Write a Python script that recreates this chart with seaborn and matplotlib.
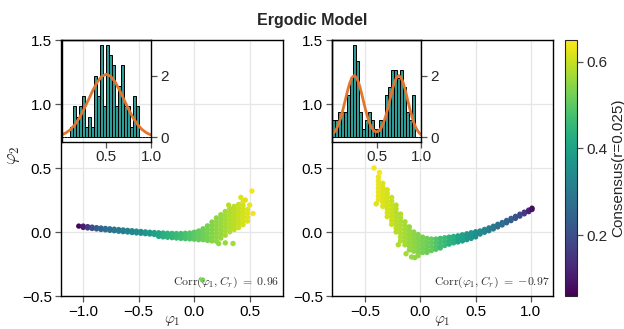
import numpy as np
import pandas as pd
import matplotlib
matplotlib.use("Agg")
import matplotlib.pyplot as plt
import seaborn as sns
from matplotlib.colors import Normalize
from matplotlib.cm import ScalarMappable

# ---------------- data ----------------
# Left panel scatter: columns of points (phi1 value, list of phi2 values, consensus)
left_phi1 = [-1.04, -1.00, -0.96, -0.92, -0.88, -0.84, -0.80, -0.76, -0.72, -0.68,
             -0.64, -0.60, -0.56, -0.52, -0.48, -0.44, -0.40, -0.36, -0.32, -0.28,
             -0.24, -0.20, -0.16, -0.12, -0.08, -0.04, 0.00, 0.04, 0.08, 0.12,
             0.16, 0.20, 0.24, 0.28, 0.32, 0.36, 0.40, 0.44, 0.48]
left_phi2 = [
    [0.046], [0.046, 0.036], [0.042, 0.032], [0.038, 0.028], [0.034, 0.024],
    [0.031, 0.020], [0.028, 0.017], [0.025, 0.013], [0.022, 0.010], [0.019, 0.006],
    [0.016, 0.003], [0.013, 0.000], [0.010, -0.004], [0.007, -0.007], [0.004, -0.010],
    [0.001, -0.013], [-0.002, -0.016], [-0.004, -0.019], [-0.006, -0.022, -0.034],
    [-0.008, -0.024, -0.038], [-0.010, -0.026, -0.041], [-0.011, -0.028, -0.044],
    [-0.012, -0.030, -0.047], [-0.012, -0.031, -0.050], [-0.010, -0.031, -0.052],
    [-0.008, -0.030, -0.054], [-0.002, -0.028, -0.056], [0.008, -0.020, -0.048, -0.060],
    [0.025, -0.004, -0.032, -0.060], [0.048, 0.018, -0.012, -0.042, -0.066],
    [0.078, 0.048, 0.018, -0.012, -0.042, -0.070],
    [0.110, 0.080, 0.050, 0.020, -0.010, -0.040, -0.072],
    [0.135, 0.105, 0.075, 0.045, 0.015, -0.015, -0.048],
    [0.160, 0.130, 0.100, 0.070, 0.040, 0.010, -0.025],
    [0.182, 0.152, 0.122, 0.092, 0.062, 0.032, 0.002],
    [0.200, 0.170, 0.140, 0.110, 0.080, 0.050, 0.020],
    [0.215, 0.185, 0.155, 0.125, 0.095, 0.065, 0.035],
    [0.205, 0.175, 0.145, 0.115, 0.085, 0.058],
    [0.175, 0.145, 0.115, 0.085]]
left_cons = [0.07, 0.11, 0.16, 0.20, 0.23, 0.25, 0.27, 0.28, 0.29, 0.30,
             0.31, 0.32, 0.33, 0.34, 0.35, 0.37, 0.38, 0.40, 0.41, 0.43,
             0.44, 0.45, 0.46, 0.47, 0.48, 0.49, 0.50, 0.51, 0.52, 0.53,
             0.54, 0.55, 0.56, 0.57, 0.58, 0.59, 0.60, 0.61, 0.62]
left_out_phi1 = [0.52, 0.42, 0.46, 0.53, 0.31, 0.22, 0.28, 0.35, 0.44, 0.50, 0.075]
left_out_phi2 = [0.32, 0.27, 0.25, 0.145, 0.21, -0.09, -0.085, -0.09, 0.235, 0.21, -0.375]
left_out_cons = [0.64, 0.62, 0.62, 0.64, 0.59, 0.55, 0.56, 0.57, 0.62, 0.63, 0.53]

# Right panel scatter
right_phi1 = [-0.42, -0.38, -0.34, -0.30, -0.26, -0.22, -0.18, -0.14, -0.10, -0.06,
              -0.02, 0.02, 0.06, 0.10, 0.14, 0.18, 0.22, 0.26, 0.30, 0.34,
              0.38, 0.42, 0.46, 0.50, 0.54, 0.58, 0.62, 0.66, 0.70, 0.74,
              0.78, 0.82, 0.86, 0.90, 0.94, 0.98, 1.01]
right_phi2 = [
    [0.50],
    [0.43, 0.40, 0.37, 0.34, 0.31, 0.28, 0.25],
    [0.38, 0.35, 0.32, 0.29, 0.26, 0.23, 0.20],
    [0.33, 0.30, 0.27, 0.24, 0.21, 0.18, 0.15, 0.12],
    [0.27, 0.24, 0.21, 0.18, 0.15, 0.12, 0.09, 0.06],
    [0.21, 0.18, 0.15, 0.12, 0.09, 0.06, 0.03, 0.00],
    [0.14, 0.11, 0.08, 0.05, 0.02, -0.01, -0.04, -0.07],
    [0.08, 0.05, 0.02, -0.01, -0.04, -0.07, -0.10],
    [0.04, 0.01, -0.02, -0.05, -0.08, -0.11, -0.14],
    [0.00, -0.03, -0.06, -0.09, -0.12, -0.15],
    [-0.02, -0.05, -0.08, -0.11, -0.14, -0.165],
    [-0.04, -0.07, -0.10, -0.13, -0.16],
    [-0.05, -0.08, -0.11, -0.14, -0.16],
    [-0.055, -0.085, -0.115, -0.145],
    [-0.055, -0.085, -0.115, -0.135],
    [-0.05, -0.08, -0.11, -0.125],
    [-0.045, -0.075, -0.105],
    [-0.04, -0.07, -0.095],
    [-0.035, -0.060, -0.085],
    [-0.030, -0.054, -0.078],
    [-0.022, -0.046, -0.070],
    [-0.014, -0.037, -0.060],
    [-0.006, -0.028, -0.050],
    [0.002, -0.018, -0.038],
    [0.008, -0.016],
    [0.020, -0.002],
    [0.032, 0.010],
    [0.045, 0.024],
    [0.060, 0.040],
    [0.074, 0.055],
    [0.090, 0.072],
    [0.106, 0.089],
    [0.122, 0.106],
    [0.139, 0.124],
    [0.155, 0.142],
    [0.171, 0.159],
    [0.186, 0.176]]
right_cons = [0.64, 0.63, 0.62, 0.61, 0.60, 0.59, 0.58, 0.57, 0.56, 0.55,
              0.54, 0.53, 0.52, 0.51, 0.49, 0.47, 0.46, 0.44, 0.43, 0.41,
              0.40, 0.38, 0.37, 0.35, 0.34, 0.33, 0.31, 0.30, 0.28, 0.27,
              0.25, 0.23, 0.21, 0.19, 0.16, 0.12, 0.08]
right_out_phi1 = [-0.37, -0.13, -0.05, -0.08, -0.40, -0.20, -0.02]
right_out_phi2 = [0.465, -0.17, -0.20, -0.195, 0.22, -0.10, -0.185]
right_out_cons = [0.64, 0.57, 0.55, 0.56, 0.62, 0.58, 0.55]

# Inset histograms (density per bin of width 1/30 on [0, 1])
left_hist_bin = list(range(3, 26))
left_hist_density = [0.333, 1.0, 0.667, 1.0, 1.333, 0.333, 0.667, 0.333, 2.0, 1.333,
                     3.0, 1.0, 3.0, 2.667, 2.333, 1.0, 1.667, 2.333, 1.0, 1.0,
                     0.333, 1.333, 1.0]
right_hist_bin = list(range(0, 28))
right_hist_density = [0.55, 0.55, 0.82, 0.82, 0.82, 1.37, 1.92, 3.0, 2.47, 0.82,
                      0.27, 0.55, 0.82, 0.55, 0.27, 0.27, 0.55, 0.55, 1.37, 1.64,
                      2.19, 2.19, 1.92, 2.19, 1.64, 0.82, 0.55, 1.37]

# Fitted density curves in the insets
left_curve_x = [0.00, 0.05, 0.10, 0.15, 0.20, 0.25, 0.30, 0.35, 0.40, 0.45, 0.50,
                0.55, 0.60, 0.65, 0.70, 0.75, 0.80, 0.85, 0.90, 0.95, 1.00]
left_curve_y = [0.079, 0.146, 0.254, 0.414, 0.632, 0.905, 1.21, 1.52, 1.79, 1.975, 2.04,
                1.975, 1.79, 1.52, 1.21, 0.905, 0.632, 0.414, 0.254, 0.146, 0.079]
right_curve_x = [0.000, 0.025, 0.050, 0.075, 0.100, 0.125, 0.150, 0.175, 0.200, 0.225,
                 0.250, 0.275, 0.300, 0.325, 0.350, 0.375, 0.400, 0.425, 0.450, 0.475,
                 0.500, 0.525, 0.550, 0.575, 0.600, 0.625, 0.650, 0.675, 0.700, 0.725,
                 0.750, 0.775, 0.800, 0.825, 0.850, 0.875, 0.900, 0.925, 0.950, 0.975, 1.000]
right_curve_y = [0.088, 0.159, 0.271, 0.432, 0.649, 0.916, 1.213, 1.510, 1.765, 1.938,
                 2.000, 1.938, 1.765, 1.510, 1.213, 0.916, 0.653, 0.442, 0.293, 0.205,
                 0.176, 0.205, 0.293, 0.442, 0.653, 0.916, 1.213, 1.510, 1.765, 1.938,
                 2.000, 1.938, 1.765, 1.510, 1.213, 0.916, 0.649, 0.432, 0.271, 0.159, 0.088]

corr_labels = [r"$\mathrm{Corr}(\varphi_1,C_r)\ =\ 0.96$",
               r"$\mathrm{Corr}(\varphi_1,C_r)\ =\ {-}0.97$"]

# ---------------- styling ----------------
sns.set_theme(style="white")
plt.rcParams.update({
    "font.family": ["Liberation Sans", "DejaVu Sans"],
    "mathtext.fontset": "cm",
    "axes.unicode_minus": True,
})

TEAL = "#2e9c96"
ORANGE = "#e3762f"
norm = Normalize(vmin=0.06, vmax=0.65)

W, H = 624, 329
fig = plt.figure(figsize=(W / 100, H / 100), dpi=100)
fig.patch.set_facecolor("white")


def px_axes(x0, y0, x1, y1):
    return fig.add_axes([x0 / W, 1 - y1 / H, (x1 - x0) / W, (y1 - y0) / H])


ax_l = px_axes(61, 40, 283, 296)
ax_r = px_axes(332, 40, 553, 296)
cax = px_axes(565, 40, 577, 296)
ins_l = px_axes(61.5, 40, 151, 142)
ins_r = px_axes(332, 40, 421, 142)


def build(xs, ys, cs, ox, oy, oc):
    X, Y, C = [], [], []
    for x, yl, c in zip(xs, ys, cs):
        for y in yl:
            X.append(x); Y.append(y); C.append(c)
    X += ox; Y += oy; C += oc
    return pd.DataFrame(dict(phi1=X, phi2=Y, consensus=C))


df_l = build(left_phi1, left_phi2, left_cons, left_out_phi1, left_out_phi2, left_out_cons)
df_r = build(right_phi1, right_phi2, right_cons, right_out_phi1, right_out_phi2, right_out_cons)


def style_main(ax, xlim, xticks):
    ax.set_xlim(*xlim)
    ax.set_ylim(-0.5, 1.5)
    ax.set_xticks(xticks)
    ax.set_yticks([-0.5, 0.0, 0.5, 1.0, 1.5])
    ax.grid(True, color="#e6e6e6", lw=0.9)
    ax.set_axisbelow(True)
    for s in ax.spines.values():
        s.set_visible(True)
        s.set_color("black")
        s.set_linewidth(1.0)
    ax.tick_params(direction="out", length=4.5, width=0.9, color="#555555",
                   labelsize=11, pad=2, bottom=True, left=True, labelcolor="black")
    ax.set_xlabel(r"$\varphi_1$", fontsize=11)
    ax.xaxis.set_label_coords(0.5, -0.072)
    ax.set_ylabel("")


for ax, df, xlim, xticks, lab in [
        (ax_l, df_l, (-1.2, 0.8), [-1.0, -0.5, 0.0, 0.5], corr_labels[0]),
        (ax_r, df_r, (-0.8, 1.2), [-0.5, 0.0, 0.5, 1.0], corr_labels[1])]:
    sns.scatterplot(data=df, x="phi1", y="phi2", hue="consensus", palette="viridis",
                    hue_norm=norm, s=15, linewidth=0, legend=False, ax=ax, zorder=3)
    style_main(ax, xlim, xticks)
    ax.text(0.985, 0.045, lab, transform=ax.transAxes, ha="right", va="baseline",
            fontsize=8.5, color="#333333", zorder=5)

ax_l.set_ylabel(r"$\varphi_2$", fontsize=13)
ax_l.yaxis.set_label_coords(-0.175, 0.55)

bin_w = 1 / 30
for ins, bins, dens, cx, cy in [
        (ins_l, left_hist_bin, left_hist_density, left_curve_x, left_curve_y),
        (ins_r, right_hist_bin, right_hist_density, right_curve_x, right_curve_y)]:
    hdf = pd.DataFrame(dict(center=[(b + 0.5) * bin_w for b in bins], density=dens))
    sns.histplot(data=hdf, x="center", weights="density", binwidth=bin_w,
                 binrange=(0, 1), ax=ins, color=TEAL, edgecolor="black",
                 linewidth=0.7, alpha=1.0, stat="count")
    sns.lineplot(x=cx, y=cy, ax=ins, color=ORANGE, lw=2)
    ins.set_facecolor("none")
    ins.set_xlim(0, 1)
    ins.set_ylim(-0.15, 3.15)
    ins.set_xticks([0.5, 1.0])
    ins.set_yticks([0, 2])
    ins.yaxis.tick_right()
    ins.tick_params(axis="y", right=True, left=False, direction="out", length=4.5,
                    width=0.9, color="#555555", labelsize=11, pad=2)
    ins.tick_params(axis="x", bottom=True, direction="out", length=4.5, width=0.9,
                    color="#555555", labelsize=11, pad=1)
    ins.set_xlabel("")
    ins.set_ylabel("")
    ins.grid(False)
    for s in ins.spines.values():
        s.set_visible(True)
        s.set_color("black")
        s.set_linewidth(1.0)

sm = ScalarMappable(norm=norm, cmap="viridis")
cb = fig.colorbar(sm, cax=cax)
cb.set_ticks([0.2, 0.4, 0.6])
cb.ax.tick_params(labelsize=11, length=4.5, width=0.9, direction="out", right=True,
                  color="#555555", pad=2)
cb.set_label("Consensus(r=0.025)", fontsize=11, labelpad=3)
cb.outline.set_linewidth(0.8)

fig.text(0.5, 1 - 20 / H, "Ergodic Model", ha="center", va="center",
         fontsize=11.5, fontweight="bold")

fig.savefig("out.png", dpi=100)
